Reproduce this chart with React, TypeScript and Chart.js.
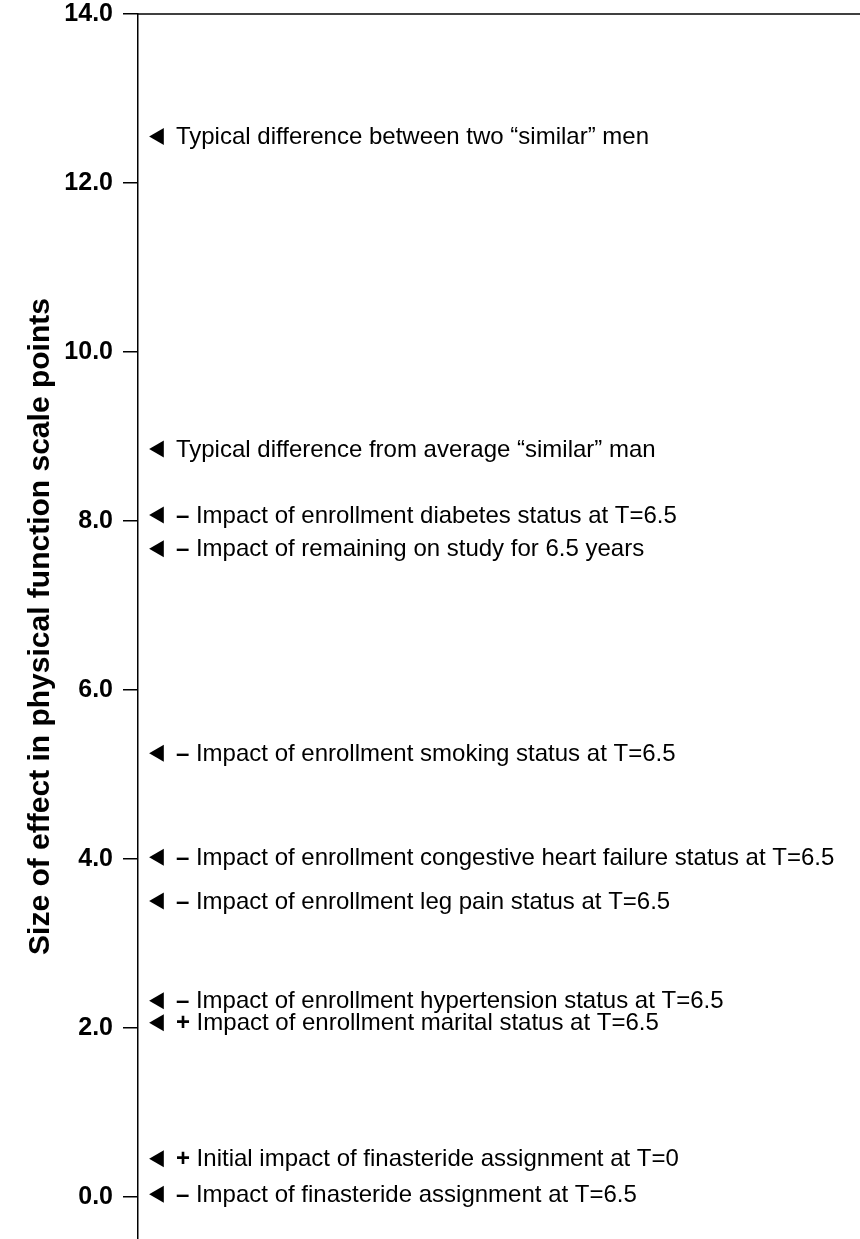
import React, { useEffect, useRef } from "react";
import { Chart, registerables } from "chart.js";

Chart.register(...registerables);

const effectLabels: string[] = [
  "Typical difference between two \u201csimilar\u201d men",
  "Typical difference from average \u201csimilar\u201d man",
  "Impact of enrollment diabetes status at T=6.5",
  "Impact of remaining on study for 6.5 years",
  "Impact of enrollment smoking status at T=6.5",
  "Impact of enrollment congestive heart failure status at T=6.5",
  "Impact of enrollment leg pain status at T=6.5",
  "Impact of enrollment hypertension status at T=6.5",
  "Impact of enrollment marital status at T=6.5",
  "Initial impact of finasteride assignment at T=0",
  "Impact of finasteride assignment at T=6.5",
];

const effectSigns: string[] = ["", "", "\u2013", "\u2013", "\u2013", "\u2013", "\u2013", "\u2013", "+", "+", "\u2013"];

const effectValues: number[] = [12.55, 8.85, 8.07, 7.67, 5.25, 4.02, 3.5, 2.32, 2.06, 0.45, 0.03];

const yTickValues: number[] = [0, 2, 4, 6, 8, 10, 12, 14];
const yMin = -0.5;
const yMax = 14;
const markerX = 0.029;
const yAxisTitle = "Size of effect in physical function scale points";

const FONT = '"Liberation Sans", Arial, Helvetica, sans-serif';

export default function App() {
  const ref = useRef<HTMLCanvasElement>(null);

  useEffect(() => {
    if (!ref.current) return;

    const labelPlugin = {
      id: "effectLabels",
      afterDatasetsDraw(chart: any) {
        const ctx = chart.ctx;
        const meta = chart.getDatasetMeta(0);
        ctx.save();
        ctx.fillStyle = "#000";
        ctx.textBaseline = "middle";
        ctx.textAlign = "left";
        meta.data.forEach((pt: any, i: number) => {
          let x = pt.x + 17;
          const y = pt.y + 1;
          const sign = effectSigns[i];
          if (sign) {
            ctx.font = `bold 24px ${FONT}`;
            ctx.fillText(sign, x, y);
            x += ctx.measureText(sign + " ").width;
          }
          ctx.font = `24px ${FONT}`;
          ctx.fillText(effectLabels[i], x, y);
        });
        ctx.restore();
      },
    };

    const topBorderPlugin = {
      id: "topBorder",
      afterDraw(chart: any) {
        const { ctx, chartArea } = chart;
        ctx.save();
        ctx.strokeStyle = "#000";
        ctx.lineWidth = 1.5;
        ctx.beginPath();
        ctx.moveTo(chartArea.left, chartArea.top);
        ctx.lineTo(chartArea.right, chartArea.top);
        ctx.stroke();
        ctx.restore();
      },
    };

    const chart = new Chart(ref.current, {
      type: "scatter",
      data: {
        datasets: [
          {
            data: effectValues.map((v) => ({ x: markerX, y: v })),
            pointStyle: "triangle",
            pointRotation: -90,
            pointRadius: 9.8,
            pointBackgroundColor: "#000",
            pointBorderColor: "#000",
            pointBorderWidth: 0,
          },
        ],
      },
      options: {
        animation: false,
        responsive: true,
        maintainAspectRatio: false,
        layout: { autoPadding: false, padding: { top: 14, left: 0, right: 0, bottom: 0 } },
        plugins: {
          legend: { display: false },
          tooltip: { enabled: false },
        },
        scales: {
          x: { type: "linear", min: 0, max: 1, display: false },
          y: {
            type: "linear",
            min: yMin,
            max: yMax,
            afterBuildTicks: (s: any) => {
              s.ticks = yTickValues.map((v) => ({ value: v }));
            },
            afterFit: (s: any) => {
              s.width = 138;
              s.paddingTop = 0;
              s.paddingBottom = 0;
            },
            ticks: {
              callback: (v: any) => Number(v).toFixed(1),
              font: { family: FONT, size: 25, weight: "bold" },
              color: "#000",
              padding: 10,
            },
            grid: {
              drawOnChartArea: false,
              drawTicks: true,
              tickLength: 15,
              color: "#000",
              lineWidth: 1.5,
            },
            border: { display: true, color: "#000", width: 1.5 },
            title: {
              display: true,
              text: yAxisTitle,
              font: { family: FONT, size: 30, weight: "bold" },
              color: "#000",
              padding: { top: 23, bottom: 0 },
            },
          },
        },
      } as any,
      plugins: [labelPlugin, topBorderPlugin],
    });

    return () => chart.destroy();
  }, []);

  return (
    <div style={{ position: "absolute", left: 0, top: 0, width: 860, height: 1239, background: "#fff" }}>
      <canvas ref={ref} style={{ display: "block" }} />
    </div>
  );
}
